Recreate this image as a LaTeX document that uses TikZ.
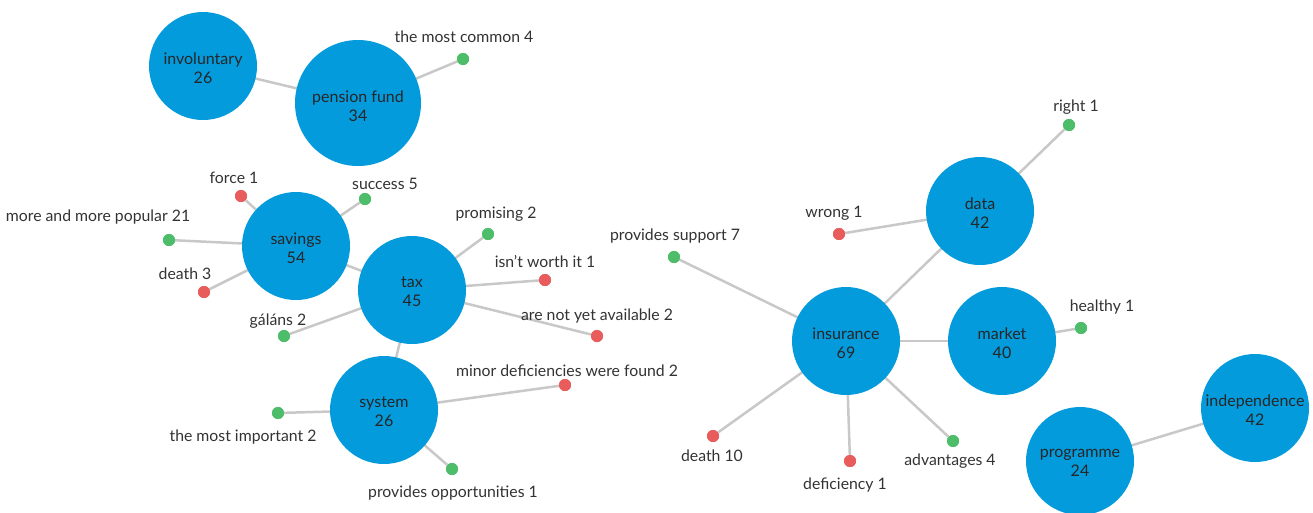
\documentclass[tikz,border=0pt]{standalone}
\usepackage{fontspec}
\setmainfont{Lato}
\definecolor{bub}{HTML}{039BDC}
\definecolor{gdot}{HTML}{4DBD6A}
\definecolor{rdot}{HTML}{E85C5C}
\definecolor{edge}{HTML}{C8C8C8}
\definecolor{txt}{HTML}{333333}
\tikzset{
  bubble/.style={circle,fill=bub,minimum size=108pt,inner sep=0pt},
  bigbubble/.style={bubble,minimum size=126pt},
  gd/.style={circle,fill=gdot,minimum size=12pt,inner sep=0pt},
  rd/.style={circle,fill=rdot,minimum size=12pt,inner sep=0pt},
  lbl/.style={text=txt,font=\fontsize{15.8}{19}\selectfont,inner sep=0pt},
  link/.style={draw=edge,line width=2.5pt},
  btext/.style={align=center,text=black!85,font=\fontsize{16}{19}\selectfont,inner sep=0pt}
}
\begin{document}
\begin{tikzpicture}[x=1pt,y=-1pt]
\useasboundingbox (0,0) rectangle (1313,512);
% dots
\node[gd] (mc) at (463,59) {};
\node[rd] (force) at (241,196) {};
\node[gd] (succ) at (365,199) {};
\node[gd] (mmp) at (169,240) {};
\node[rd] (d3) at (204,292) {};
\node[gd] (prom) at (488,234) {};
\node[rd] (isnt) at (545,280) {};
\node[rd] (anya) at (597,336) {};
\node[gd] (gal) at (284,336) {};
\node[rd] (minor) at (565,385) {};
\node[gd] (mimp) at (278,413) {};
\node[gd] (popp) at (452,469) {};
\node[gd] (right) at (1069,125) {};
\node[rd] (wrong) at (839,234) {};
\node[gd] (psup) at (674,257) {};
\node[gd] (healthy) at (1081,328) {};
\node[rd] (d10) at (713,436) {};
\node[rd] (defi) at (850,461) {};
\node[gd] (adv) at (953,441) {};
% bubble coordinates
\coordinate (cinv) at (203,66);
\coordinate (cpf) at (358,103);
\coordinate (csav) at (296,246);
\coordinate (ctax) at (412,290);
\coordinate (csys) at (384,410);
\coordinate (cins) at (846,341);
\coordinate (cdata) at (980,211);
\coordinate (cmkt) at (1002,341);
\coordinate (cind) at (1255,408);
\coordinate (cprog) at (1080,461);
% edges
\draw[link] (cinv) -- (cpf);
\draw[link] (cpf) -- (mc);
\draw[link] (csav) -- (ctax);
\draw[link] (ctax) -- (csys);
\draw[link] (csav) -- (force);
\draw[link] (csav) -- (succ);
\draw[link] (csav) -- (mmp);
\draw[link] (csav) -- (d3);
\draw[link] (ctax) -- (prom);
\draw[link] (ctax) -- (isnt);
\draw[link] (ctax) -- (anya);
\draw[link] (ctax) -- (gal);
\draw[link] (csys) -- (minor);
\draw[link] (csys) -- (mimp);
\draw[link] (csys) -- (popp);
\draw[link] (cins) -- (cdata);
\draw[link] (cins) -- (cmkt);
\draw[link] (cins) -- (psup);
\draw[link] (cins) -- (d10);
\draw[link] (cins) -- (defi);
\draw[link] (cins) -- (adv);
\draw[link] (cdata) -- (right);
\draw[link] (cdata) -- (wrong);
\draw[link] (cmkt) -- (healthy);
\draw[link] (cprog) -- (cind);
% redraw dots above edges
\foreach \n/\c in {mc/gdot,force/rdot,succ/gdot,mmp/gdot,d3/rdot,prom/gdot,isnt/rdot,anya/rdot,gal/gdot,minor/rdot,mimp/gdot,popp/gdot,right/gdot,wrong/rdot,psup/gdot,healthy/gdot,d10/rdot,defi/rdot,adv/gdot}
  \fill[\c] (\n) circle (6pt);
% bubbles
\node[bubble] (inv) at (cinv) {};
\node[bigbubble] (pf) at (cpf) {};
\node[bubble] (sav) at (csav) {};
\node[bubble] (tax) at (ctax) {};
\node[bubble] (sys) at (csys) {};
\node[bubble] (ins) at (cins) {};
\node[bubble] (data) at (cdata) {};
\node[bubble] (mkt) at (cmkt) {};
\node[bubble] (prog) at (cprog) {};
\node[bubble] (ind) at (cind) {};
\node[btext] (tinv) at ([yshift=-2pt]inv.center) {involuntary\\26};
\node[btext] (tpf) at ([yshift=-3pt]pf.center) {pension fund\\34};
\node[btext] (tsav) at ([yshift=-2pt]sav.center) {savings\\54};
\node[btext] (ttax) at ([yshift=-2pt]tax.center) {tax\\45};
\node[btext] (tsys) at ([yshift=-2pt]sys.center) {system\\26};
\node[btext] (tins) at ([yshift=-2pt]ins.center) {insurance\\69};
\node[btext] (tdata) at ([yshift=-2pt]data.center) {data\\42};
\node[btext] (tmkt) at ([yshift=-2pt]mkt.center) {market\\40};
\node[btext] (tprog) at ([yshift=-2pt]prog.center) {programme\\24};
\node[btext] (tind) at ([yshift=-2pt]ind.center) {independence\\42};
% labels
\node[lbl] (lmc) at (464,37) {the most common 4};
\node[lbl] (lforce) at (234,178) {force 1};
\node[lbl] (lsucc) at (385,184) {success 5};
\node[lbl] (lmmp) at (98,217) {more and more popular 21};
\node[lbl] (ld3) at (185,274) {death 3};
\node[lbl] (lprom) at (496,214) {promising 2};
\node[lbl] (lisnt) at (545,262) {isn’t worth it 1};
\node[lbl] (lanya) at (597,316) {are not yet available 2};
\node[lbl] (lgal) at (278,321) {gáláns 2};
\node[lbl] (lminor) at (567,371) {minor deficiencies were found 2};
\node[lbl] (lmimp) at (243,437) {the most important 2};
\node[lbl] (lpopp) at (453,493) {provides opportunities 1};
\node[lbl] (lright) at (1076,107) {right 1};
\node[lbl] (lwrong) at (834,213) {wrong 1};
\node[lbl] (lpsup) at (675,236) {provides support 7};
\node[lbl] (lhealthy) at (1102,307) {healthy 1};
\node[lbl] (ld10) at (712,456) {death 10};
\node[lbl] (ldefi) at (845,485) {deficiency 1};
\node[lbl] (ladv) at (950,461) {advantages 4};
\end{tikzpicture}
\end{document}
